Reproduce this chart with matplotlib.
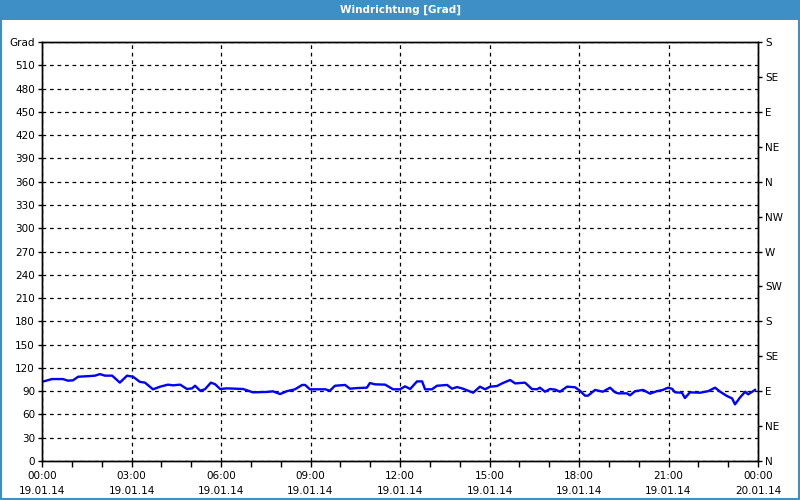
import numpy as np
import matplotlib.pyplot as plt
from matplotlib.patches import Rectangle

# wind direction over one day, hours since 19.01.14 00:00
hours = [0.0, 0.33, 0.70, 0.87, 1.04, 1.21, 1.61, 1.78, 1.94, 2.11, 2.35, 2.61,
         2.85, 3.05, 3.28, 3.45, 3.72, 3.96, 4.22, 4.39, 4.63, 4.86, 5.03, 5.13,
         5.30, 5.46, 5.66, 5.80, 5.97, 6.20, 6.74, 7.07, 7.54, 7.74, 7.98, 8.21,
         8.48, 8.72, 8.82, 8.98, 9.49, 9.65, 9.82, 10.16, 10.32, 10.56, 10.89,
         10.99, 11.16, 11.50, 11.77, 12.00, 12.17, 12.34, 12.57, 12.74, 12.84,
         13.07, 13.24, 13.58, 13.74, 13.91, 14.11, 14.45, 14.68, 14.85, 15.02,
         15.25, 15.42, 15.69, 15.86, 16.19, 16.42, 16.59, 16.69, 16.86, 17.03,
         17.20, 17.36, 17.60, 17.87, 18.03, 18.20, 18.30, 18.54, 18.80, 19.04,
         19.21, 19.31, 19.61, 19.71, 19.88, 20.15, 20.38, 20.61, 20.81, 20.98,
         21.12, 21.22, 21.45, 21.55, 21.72, 22.06, 22.33, 22.56, 22.73, 22.96,
         23.13, 23.23, 23.40, 23.57, 23.67, 23.90]
grad = [102, 105.6, 105.6, 103.5, 104, 108.6, 109.5, 110, 112, 110, 110, 101,
        110, 108.6, 102, 101, 92.4, 95.8, 98.4, 97.5, 98.4, 92.8, 93.6, 97,
        90.6, 92.4, 101, 99, 92.8, 93.6, 92.8, 88.5, 89, 89.8, 86.3, 90,
        92.4, 98, 98, 92.4, 92.4, 90.6, 97, 98, 93.2, 94, 94.5,
        100.5, 98.8, 98.4, 92.4, 92.4, 96.2, 92.8, 102.6, 102.6, 92.4,
        92.4, 97, 98, 93.2, 95.3, 93.2, 88, 95.8, 92.4, 95.8,
        96.6, 100, 104.4, 100, 101, 92.8, 92.4, 94.5, 89.3, 92.8,
        92, 89.3, 95.8, 95, 90.6, 84.2, 84.2, 91.6, 89.3, 94.5,
        88.5, 87.2, 87.2, 84.6, 90, 91.6, 86.8, 90, 91.6, 94.5,
        93, 88.5, 88, 81.2, 88.5, 88, 90, 94.5, 89.3, 83.7,
        80.7, 73, 82, 89.3, 85.9, 91.6]

left_labels = ['0', '30', '60', '90', '120', '150', '180', '210', '240', '270', '300',
               '330', '360', '390', '420', '450', '480', '510', 'Grad']
right_labels = ['N', 'NE', 'E', 'SE', 'S', 'SW', 'W', 'NW', 'N', 'NE', 'E', 'SE', 'S']
time_labels = ['00:00', '03:00', '06:00', '09:00', '12:00', '15:00', '18:00', '21:00', '00:00']
date_labels = ['19.01.14'] * 8 + ['20.01.14']

fs = 7.5
fig = plt.figure(figsize=(8, 5), dpi=100)
fig.patch.set_facecolor('white')

# title bar and border
fig.patches.append(Rectangle((0, 0.96), 1, 0.04, transform=fig.transFigure,
                             facecolor='#3d8fc6', edgecolor='none', zorder=0))
fig.patches.append(Rectangle((0.0015, 0.002), 0.997, 0.996, transform=fig.transFigure,
                             facecolor='none', edgecolor='#3d8fc6', lw=1.5, zorder=5))
fig.text(0.5, 0.98, 'Windrichtung [Grad]', color='white', fontsize=7.5,
         fontweight='bold', ha='center', va='center')

ax = fig.add_axes([0.0525, 0.078, 0.895, 0.838])
ax.plot(hours, grad, color='#0000ff', lw=1.7, zorder=3)
ax.set_xlim(0, 24)
ax.set_ylim(0, 540)

ax.set_yticks(np.arange(0, 541, 30))
ax.set_yticklabels(left_labels, fontsize=fs)
ax.set_xticks(np.arange(0, 25, 3))
ax.set_xticklabels([t + '\n' + d for t, d in zip(time_labels, date_labels)],
                   fontsize=fs, linespacing=1.6)
ax.set_xticks(np.arange(0, 25, 1), minor=True)
ax.tick_params(axis='x', which='both', direction='out', length=4, width=1, pad=3)
ax.tick_params(axis='y', direction='out', length=3, width=1, pad=2)

ax2 = ax.twinx()
ax2.set_ylim(0, 540)
ax2.set_yticks(np.arange(0, 541, 45))
ax2.set_yticklabels(right_labels, fontsize=fs)
ax2.tick_params(axis='y', direction='out', length=3, width=1, pad=2)

ax.grid(True, which='major', color='black', linestyle=(0, (3, 3)), lw=0.9)
for a in (ax, ax2):
    for s in a.spines.values():
        s.set_linewidth(1)
        s.set_color('black')

fig.savefig('out.png', dpi=100)
